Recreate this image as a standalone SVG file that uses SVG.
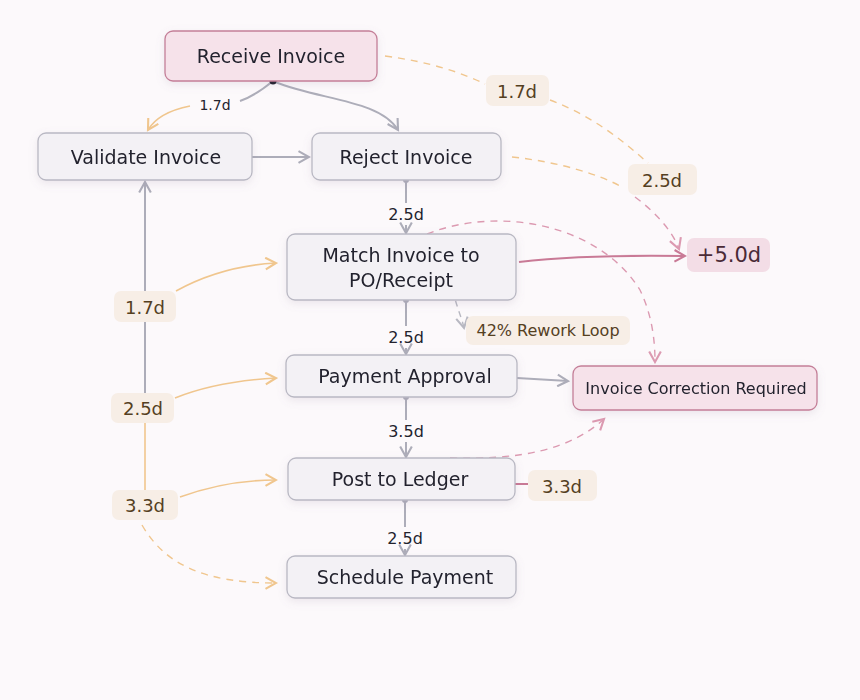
<svg xmlns="http://www.w3.org/2000/svg" width="860" height="700" viewBox="0 0 860 700">
<defs>
<style>
.node rect{fill:#f3f1f5;stroke:#b9b8c3;stroke-width:1.3}
.pnode rect{fill:#f6e2ea;stroke:#c47f98;stroke-width:1.3}
.t{font-family:"DejaVu Sans","Liberation Sans",sans-serif;font-size:19px;fill:#23232e;text-anchor:middle;dominant-baseline:central}
.ts{font-family:"DejaVu Sans","Liberation Sans",sans-serif;font-size:14px;fill:#23232e;text-anchor:middle;dominant-baseline:central}
.tv{font-family:"DejaVu Sans","Liberation Sans",sans-serif;font-size:16px;fill:#23232e;text-anchor:middle;dominant-baseline:central}
.bl{font-family:"DejaVu Sans","Liberation Sans",sans-serif;font-size:18px;fill:#55401f;text-anchor:middle;dominant-baseline:central}
.badge rect{fill:#f7eee6}
.pbadge rect{fill:#f3dde6}
.g{fill:none;stroke:#adadb9;stroke-width:2}
.o{fill:none;stroke:#f0c68e;stroke-width:1.6}
.od{fill:none;stroke:#f0c68e;stroke-width:1.4;stroke-dasharray:7 6}
.p{fill:none;stroke:#c97a96;stroke-width:2}
.pd{fill:none;stroke:#dc9ab1;stroke-width:1.4;stroke-dasharray:7 6}
.gd{fill:none;stroke:#b8b8c2;stroke-width:1.4;stroke-dasharray:6 5}
</style>
<marker id="ag" viewBox="0 0 12 12" refX="10" refY="6" markerWidth="14" markerHeight="14" markerUnits="userSpaceOnUse" orient="auto"><path d="M1,1 L10,6 L1,11" fill="none" stroke="#adadb9" stroke-width="1.8"/></marker>
<marker id="ao" viewBox="0 0 12 12" refX="10" refY="6" markerWidth="14" markerHeight="14" markerUnits="userSpaceOnUse" orient="auto"><path d="M1,1 L10,6 L1,11" fill="none" stroke="#f0c68e" stroke-width="1.8"/></marker>
<marker id="ap" viewBox="0 0 12 12" refX="10" refY="6" markerWidth="14" markerHeight="14" markerUnits="userSpaceOnUse" orient="auto"><path d="M1,1 L10,6 L1,11" fill="none" stroke="#c97a96" stroke-width="1.8"/></marker>
<marker id="apd" viewBox="0 0 12 12" refX="10" refY="6" markerWidth="14" markerHeight="14" markerUnits="userSpaceOnUse" orient="auto"><path d="M1,1 L10,6 L1,11" fill="none" stroke="#dc9ab1" stroke-width="1.8"/></marker>
<marker id="agd" viewBox="0 0 12 12" refX="10" refY="6" markerWidth="14" markerHeight="14" markerUnits="userSpaceOnUse" orient="auto"><path d="M1,1 L10,6 L1,11" fill="none" stroke="#b8b8c2" stroke-width="1.8"/></marker>
<filter id="sh" x="-20%" y="-30%" width="140%" height="170%"><feDropShadow dx="0" dy="3" stdDeviation="4" flood-color="#8a7a90" flood-opacity="0.15"/></filter>
</defs>
<rect width="860" height="700" fill="#fcf9fb"/>

<g id="connectors">
  <path class="g" d="M273,81 C262,90 252,97 240,101"/>
  <path class="o" d="M190,106 C170,110 155,118 148,130" marker-end="url(#ao)"/>
  <text class="ts" x="215" y="105">1.7d</text>
  <path class="g" d="M275,82 C320,100 380,100 398,130" marker-end="url(#ag)"/>
  <circle cx="273" cy="81" r="3.5" fill="#1e1e2a"/>
  <path class="g" d="M252,157 L309,157" marker-end="url(#ag)"/>
  <path class="g" d="M406,180 L406,203"/><path class="g" d="M406,225 L406,233" marker-end="url(#ag)"/>
  <circle cx="406" cy="180" r="3" fill="#adadb9"/>
  <text class="tv" x="406" y="214">2.5d</text>
  <path class="g" d="M406,300 L406,326"/><path class="g" d="M406,348 L406,354" marker-end="url(#ag)"/>
  <circle cx="406" cy="300" r="3" fill="#adadb9"/>
  <text class="tv" x="406" y="337">2.5d</text>
  <path class="g" d="M406,397 L406,420"/><path class="g" d="M406,442 L406,457" marker-end="url(#ag)"/>
  <circle cx="406" cy="397" r="3" fill="#adadb9"/>
  <text class="tv" x="406" y="431">3.5d</text>
  <path class="g" d="M405,500 L405,527"/><path class="g" d="M405,549 L405,555" marker-end="url(#ag)"/>
  <circle cx="405" cy="500" r="3" fill="#adadb9"/>
  <text class="tv" x="405" y="538">2.5d</text>
  <path class="g" d="M145,393 L145,182" marker-end="url(#ag)"/>
  <path class="o" d="M145,423 L145,490"/>
  <path class="o" d="M176,291 C205,275 240,265 276,263" marker-end="url(#ao)"/>
  <path class="o" d="M175,398 C205,386 240,380 276,378" marker-end="url(#ao)"/>
  <path class="o" d="M180,497 C210,486 240,480 276,480" marker-end="url(#ao)"/>
  <path class="od" d="M142,525 C165,565 205,583 276,583" marker-end="url(#ao)"/>
  <path class="od" d="M385,56 C430,62 460,72 485,84"/>
  <path class="od" d="M550,100 C590,115 620,138 648,163"/>
  <path class="od" d="M512,157 C560,162 600,175 620,186"/>
  <path class="pd" d="M635,197 C655,212 672,230 679,249" marker-end="url(#apd)"/>
  <path class="p" d="M519,262 C570,256 620,255 685,256" marker-end="url(#ap)"/>
  <path class="pd" d="M427,234 C500,205 600,225 640,290 C652,315 655,340 655,362" marker-end="url(#apd)"/>
  <path class="gd" d="M453,290 C456,306 462,318 464,328" marker-end="url(#agd)"/>
  <path class="g" d="M517,378 L568,381" marker-end="url(#ag)"/>
  <path class="pd" d="M450,458 C520,460 570,450 604,419" marker-end="url(#apd)"/>
  <path class="p" d="M515,484 L528,484"/>
</g>

<g id="receive" class="pnode" filter="url(#sh)"><rect x="165" y="31" width="212" height="50" rx="8"/><text class="t" x="271" y="56">Receive Invoice</text></g>
<g id="validate" class="node" filter="url(#sh)"><rect x="38" y="133" width="214" height="47" rx="8"/><text class="t" x="146" y="157">Validate Invoice</text></g>
<g id="reject" class="node" filter="url(#sh)"><rect x="312" y="133" width="189" height="47" rx="8"/><text class="t" x="406" y="157">Reject Invoice</text></g>
<g id="match" class="node" filter="url(#sh)"><rect x="287" y="234" width="229" height="66" rx="8"/><text class="t" x="401" y="255">Match Invoice to</text><text class="t" x="401" y="280">PO/Receipt</text></g>
<g id="payment" class="node" filter="url(#sh)"><rect x="286" y="355" width="231" height="42" rx="8"/><text class="t" x="405" y="376">Payment Approval</text></g>
<g id="post" class="node" filter="url(#sh)"><rect x="288" y="458" width="227" height="42" rx="8"/><text class="t" x="400" y="479">Post to Ledger</text></g>
<g id="schedule" class="node" filter="url(#sh)"><rect x="287" y="556" width="229" height="42" rx="8"/><text class="t" x="405" y="577">Schedule Payment</text></g>
<g id="correction" class="pnode" filter="url(#sh)"><rect x="573" y="366" width="244" height="44" rx="8"/><text class="ts" x="696" y="388" style="font-size:16px">Invoice Correction Required</text></g>

<g id="badge-plus5" class="pbadge"><rect x="687" y="238" width="83" height="34" rx="7"/><text class="bl" x="729" y="255" style="fill:#4a2a36;font-size:21px">+5.0d</text></g>
<g id="badge-rework" class="badge"><rect x="466" y="316" width="164" height="29" rx="7"/><text class="bl" x="548" y="330" style="font-size:16px">42% Rework Loop</text></g>
<g id="badge-17-top" class="badge"><rect x="486" y="75" width="63" height="31" rx="7"/><text class="bl" x="517" y="91">1.7d</text></g>
<g id="badge-25-right" class="badge"><rect x="628" y="164" width="69" height="31" rx="7"/><text class="bl" x="662" y="180">2.5d</text></g>
<g id="badge-33-right" class="badge"><rect x="528" y="470" width="69" height="31" rx="7"/><text class="bl" x="562" y="486">3.3d</text></g>
<g id="badge-17-left" class="badge"><rect x="114" y="291" width="62" height="31" rx="7"/><text class="bl" x="145" y="307">1.7d</text></g>
<g id="badge-25-left" class="badge"><rect x="111" y="393" width="63" height="30" rx="7"/><text class="bl" x="143" y="408">2.5d</text></g>
<g id="badge-33-left" class="badge"><rect x="112" y="490" width="66" height="30" rx="7"/><text class="bl" x="145" y="505">3.3d</text></g>
</svg>
